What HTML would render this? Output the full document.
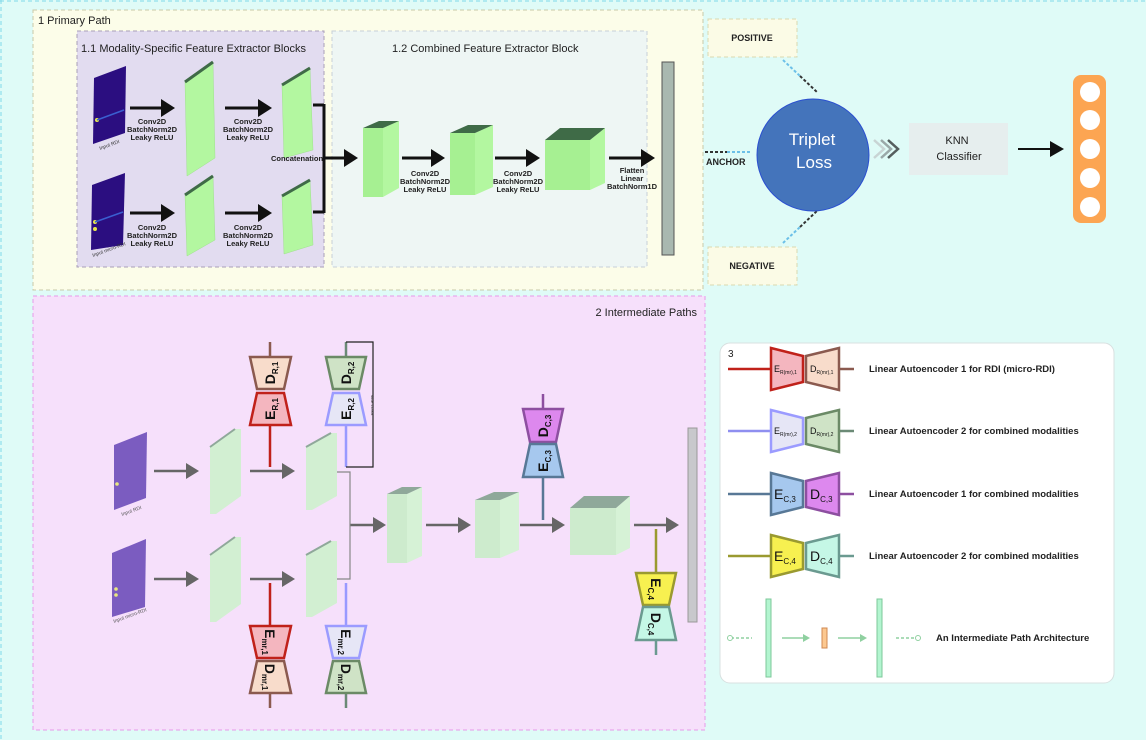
<!DOCTYPE html>
<html><head><meta charset="utf-8"><style>
html,body{margin:0;padding:0;background:#dffbf7;}
svg{display:block;font-family:"Liberation Sans",sans-serif;}
</style></head><body>
<svg width="1146" height="740" viewBox="0 0 1146 740" xmlns="http://www.w3.org/2000/svg">
<rect x="0" y="0" width="1146" height="740" fill="#dffbf7"/>
<line x1="0" y1="1" x2="1146" y2="1" stroke="#7fd8e8" stroke-dasharray="4,3"/>
<line x1="1" y1="0" x2="1" y2="740" stroke="#7fd8e8" stroke-dasharray="4,3"/>

<!-- PRIMARY -->
<rect x="33" y="10" width="670" height="280" fill="#fcfde9" stroke="#c9c9a8" stroke-dasharray="4,3"/>
<text x="38" y="24" font-size="11" fill="#222">1 Primary Path</text>
<rect x="77" y="31" width="247" height="236" fill="#e2dcf0" stroke="#a9a0b8" stroke-dasharray="4,3"/>
<text x="81" y="52" font-size="11" fill="#222">1.1 Modality-Specific Feature Extractor Blocks</text>
<rect x="332" y="31" width="315" height="236" fill="#eef6f4" stroke="#c7d0d8" stroke-dasharray="4,3"/>
<text x="392" y="52" font-size="11" fill="#222">1.2 Combined Feature Extractor Block</text>
<rect x="662" y="62" width="12" height="193" fill="#a9b8b0" stroke="#555" stroke-width="1"/>

<!-- spectrograms primary -->
<polygon points="94,78 126,66 125,133 93,144" fill="#2b0e80"/>
<circle cx="97" cy="120" r="2" fill="#e8e84a"/>
<line x1="97" y1="120" x2="124" y2="110" stroke="#3a5fd0" stroke-width="1.5"/>
<text transform="translate(100,150) rotate(-20)" font-size="5" fill="#333">Input RDI</text>
<polygon points="92,185 125,173 123,245 91,250" fill="#2b0e80"/>
<circle cx="95" cy="222" r="2" fill="#e8e84a"/>
<circle cx="95" cy="229" r="2" fill="#e8e84a"/>
<line x1="95" y1="222" x2="123" y2="212" stroke="#3a5fd0" stroke-width="1.5"/>
<text transform="translate(93,257) rotate(-20)" font-size="5" fill="#333">Input micro-RDI</text>

<!-- primary slabs -->
<g fill="#b3f7a0" stroke="#a0e08f" stroke-width="0.5">
<polygon points="185,82 213,62 215,158 187,176"/>
<polygon points="282,85 310,68 313,150 284,158"/>
<polygon points="185,195 213,176 215,240 187,256"/>
<polygon points="282,196 310,180 313,245 284,254"/>
</g>
<g stroke="#3f6b47" stroke-width="3">
<line x1="185" y1="82" x2="213" y2="62"/>
<line x1="282" y1="85" x2="310" y2="68"/>
<line x1="185" y1="195" x2="213" y2="176"/>
<line x1="282" y1="196" x2="310" y2="180"/>
</g>
<!-- slab3 -->
<polygon points="363,128 383,128 383,197 363,197" fill="#a6f092"/>
<polygon points="383,128 399,121 399,188 383,197" fill="#b3f7a0"/>
<polygon points="363,128 379,121 399,121 383,128" fill="#3f6b47"/>
<!-- slab4 -->
<polygon points="450,133 475,133 475,195 450,195" fill="#a6f092"/>
<polygon points="475,133 493,125 493,187 475,195" fill="#b3f7a0"/>
<polygon points="450,133 468,125 493,125 475,133" fill="#3f6b47"/>
<!-- cube -->
<polygon points="545,140 590,140 590,190 545,190" fill="#a6f092"/>
<polygon points="590,140 605,128 605,183 590,190" fill="#b3f7a0"/>
<polygon points="545,140 560,128 605,128 590,140" fill="#3f6b47"/>

<!-- primary arrows -->
<g stroke="#111" stroke-width="3">
<line x1="130" y1="108" x2="162" y2="108"/><line x1="225" y1="108" x2="259" y2="108"/>
<line x1="130" y1="213" x2="162" y2="213"/><line x1="225" y1="213" x2="259" y2="213"/>
<line x1="313" y1="105" x2="324" y2="105"/><line x1="324" y1="104" x2="324" y2="213"/><line x1="313" y1="212" x2="324" y2="212"/>
<line x1="324" y1="158" x2="345" y2="158"/><line x1="402" y1="158" x2="432" y2="158"/>
<line x1="495" y1="158" x2="527" y2="158"/><line x1="609" y1="158" x2="642" y2="158"/>
</g>
<g stroke="#111" stroke-width="1.5"><line x1="313" y1="105" x2="324" y2="105"/></g>
<g fill="#111">
<polygon points="161,99 175,108 161,117"/><polygon points="258,99 272,108 258,117"/>
<polygon points="161,204 175,213 161,222"/><polygon points="258,204 272,213 258,222"/>
<polygon points="344,149 358,158 344,167"/><polygon points="431,149 445,158 431,167"/>
<polygon points="526,149 540,158 526,167"/><polygon points="641,149 655,158 641,167"/>
</g>
<g font-size="7.5" font-weight="bold" fill="#222" text-anchor="middle">
<text x="152" y="124">Conv2D</text><text x="152" y="132">BatchNorm2D</text><text x="152" y="140">Leaky ReLU</text>
<text x="248" y="124">Conv2D</text><text x="248" y="132">BatchNorm2D</text><text x="248" y="140">Leaky ReLU</text>
<text x="152" y="230">Conv2D</text><text x="152" y="238">BatchNorm2D</text><text x="152" y="246">Leaky ReLU</text>
<text x="248" y="230">Conv2D</text><text x="248" y="238">BatchNorm2D</text><text x="248" y="246">Leaky ReLU</text>
<text x="297" y="161">Concatenation</text>
<text x="425" y="176">Conv2D</text><text x="425" y="184">BatchNorm2D</text><text x="425" y="192">Leaky ReLU</text>
<text x="518" y="176">Conv2D</text><text x="518" y="184">BatchNorm2D</text><text x="518" y="192">Leaky ReLU</text>
<text x="632" y="173">Flatten</text><text x="632" y="181">Linear</text><text x="632" y="189">BatchNorm1D</text>
</g>

<!-- TRIPLET -->
<rect x="708" y="19" width="89" height="38" fill="#fbfbe6" stroke="#d8d8b0" stroke-dasharray="4,3"/>
<text x="752" y="41" font-size="9" font-weight="bold" text-anchor="middle" fill="#222">POSITIVE</text>
<rect x="708" y="247" width="89" height="38" fill="#fbfbe6" stroke="#d8d8b0" stroke-dasharray="4,3"/>
<text x="752" y="269" font-size="9" font-weight="bold" text-anchor="middle" fill="#222">NEGATIVE</text>
<g stroke-width="2" stroke-dasharray="3,2">
<line x1="783" y1="60" x2="800" y2="76" stroke="#6cc0e8"/><line x1="800" y1="76" x2="818" y2="93" stroke="#333"/>
<line x1="783" y1="243" x2="800" y2="227" stroke="#6cc0e8"/><line x1="800" y1="227" x2="818" y2="210" stroke="#333"/>
<line x1="705" y1="152" x2="727" y2="152" stroke="#333"/><line x1="727" y1="152" x2="751" y2="152" stroke="#6cc0e8"/>
</g>
<text x="706" y="165" font-size="9" font-weight="bold" fill="#222">ANCHOR</text>
<circle cx="813" cy="155" r="56" fill="#4474bb" stroke="#2a4fd0" stroke-width="1"/>
<text x="812" y="145" font-size="17" fill="#fff" text-anchor="middle">Triplet</text>
<text x="814" y="168" font-size="17" fill="#fff" text-anchor="middle">Loss</text>
<g fill="none" stroke-width="2.5">
<polyline points="874,140 884,149 874,158" stroke="#c8d4d4"/>
<polyline points="881,140 891,149 881,158" stroke="#9aa8a8"/>
<polyline points="888,140 898,149 888,158" stroke="#555e5e"/>
</g>
<rect x="909" y="123" width="99" height="52" fill="#e6eeee"/>
<text x="957" y="144" font-size="11" text-anchor="middle" fill="#222">KNN</text>
<text x="959" y="160" font-size="11" text-anchor="middle" fill="#222">Classifier</text>
<line x1="1018" y1="149" x2="1050" y2="149" stroke="#111" stroke-width="2"/>
<polygon points="1050,141 1064,149 1050,157" fill="#111"/>
<rect x="1073" y="75" width="33" height="148" rx="8" fill="#fca552"/>
<g fill="#fff"><circle cx="1090" cy="92" r="10"/><circle cx="1090" cy="120" r="10"/><circle cx="1090" cy="149" r="10"/><circle cx="1090" cy="178" r="10"/><circle cx="1090" cy="207" r="10"/></g>

<!-- INTERMEDIATE -->
<rect x="33" y="296" width="672" height="434" fill="#f6e0fb" stroke="#e79ae8" stroke-dasharray="4,3"/>
<text x="697" y="316" font-size="11" text-anchor="end" fill="#222">2 Intermediate Paths</text>

<polygon points="114,445 147,432 146,498 114,510" fill="#7b5cc0"/>
<circle cx="117" cy="484" r="1.8" fill="#e8e880"/>
<text transform="translate(122,516) rotate(-20)" font-size="5" fill="#555">Input RDI</text>
<polygon points="112,553 146,539 145,607 112,617" fill="#7b5cc0"/>
<circle cx="116" cy="589" r="1.8" fill="#e8e880"/><circle cx="116" cy="595" r="1.8" fill="#e8e880"/>
<text transform="translate(114,623) rotate(-20)" font-size="5" fill="#555">Input micro-RDI</text>

<g fill="#d2efd2">
<polygon points="210,447 235,429 241,429 241,496 216,514 210,514"/>
<polygon points="306,447 331,433 337,433 337,496 312,510 306,510"/>
<polygon points="210,555 235,537 241,537 241,604 216,622 210,622"/>
<polygon points="306,555 331,541 337,541 337,603 312,617 306,617"/>
</g>
<g stroke="#8fa89a" stroke-width="2">
<line x1="210" y1="447" x2="235" y2="429"/><line x1="306" y1="447" x2="331" y2="433"/>
<line x1="210" y1="555" x2="235" y2="537"/><line x1="306" y1="555" x2="331" y2="541"/>
</g>
<polygon points="387,494 407,494 407,563 387,563" fill="#cdebcd"/>
<polygon points="407,494 422,487 422,556 407,563" fill="#d6f2d6"/>
<polygon points="387,494 402,487 422,487 407,494" fill="#8fa89a"/>
<polygon points="475,500 500,500 500,558 475,558" fill="#cdebcd"/>
<polygon points="500,500 519,492 519,550 500,558" fill="#d6f2d6"/>
<polygon points="475,500 494,492 519,492 500,500" fill="#8fa89a"/>
<polygon points="570,508 616,508 616,555 570,555" fill="#cdebcd"/>
<polygon points="616,508 630,496 630,548 616,555" fill="#d6f2d6"/>
<polygon points="570,508 584,496 630,496 616,508" fill="#8fa89a"/>
<rect x="688" y="428" width="9" height="194" fill="#c8c8cc" stroke="#999"/>

<g stroke="#666" stroke-width="2.5">
<line x1="154" y1="471" x2="188" y2="471"/><line x1="250" y1="471" x2="284" y2="471"/>
<line x1="154" y1="579" x2="188" y2="579"/><line x1="250" y1="579" x2="284" y2="579"/>
<line x1="350" y1="525" x2="375" y2="525"/><line x1="426" y1="525" x2="460" y2="525"/>
<line x1="520" y1="525" x2="554" y2="525"/><line x1="634" y1="525" x2="668" y2="525"/>
</g>
<g stroke="#888" stroke-width="1.2" fill="none"><polyline points="337,472 350,472 350,579 337,579"/></g>
<g fill="#666">
<polygon points="186,463 199,471 186,479"/><polygon points="282,463 295,471 282,479"/>
<polygon points="186,571 199,579 186,587"/><polygon points="282,571 295,579 282,587"/>
<polygon points="373,517 386,525 373,533"/><polygon points="458,517 471,525 458,533"/>
<polygon points="552,517 565,525 552,533"/><polygon points="666,517 679,525 666,533"/>
</g>

<!-- AE lines -->
<g stroke-width="2.5">
<line x1="270" y1="342" x2="270" y2="360" stroke="#8b5a4f"/>
<line x1="270" y1="420" x2="270" y2="467" stroke="#c0211a"/>
<line x1="346" y1="342" x2="346" y2="360" stroke="#6b8a76"/>
<line x1="346" y1="420" x2="346" y2="467" stroke="#9999ff"/>
<line x1="270" y1="583" x2="270" y2="630" stroke="#c0211a"/>
<line x1="270" y1="690" x2="270" y2="708" stroke="#8b5a4f"/>
<line x1="346" y1="583" x2="346" y2="630" stroke="#9999ff"/>
<line x1="346" y1="690" x2="346" y2="708" stroke="#6b8a76"/>
<line x1="543" y1="394" x2="543" y2="412" stroke="#8d4fa0"/>
<line x1="543" y1="475" x2="543" y2="520" stroke="#587896"/>
<line x1="656" y1="529" x2="656" y2="576" stroke="#9a9a30"/>
<line x1="656" y1="637" x2="656" y2="655" stroke="#6b9a90"/>
</g>
<polyline points="346,342 373,342 373,467 346,467" fill="none" stroke="#222" stroke-width="1.2"/>
<text transform="translate(371,405) rotate(90)" font-size="4" text-anchor="middle" fill="#333">MAE LOSS</text>

<g stroke-width="2.5">
<polygon points="250,357 291,357 284,389 257,389" fill="#f8dccb" stroke="#8b5a4f"/>
<polygon points="257,393 284,393 291,425 250,425" fill="#f4b6bf" stroke="#c0211a"/>
<polygon points="326,357 366,357 359,389 333,389" fill="#cfe3c6" stroke="#6b8a66"/>
<polygon points="333,393 359,393 366,425 326,425" fill="#e6e6f6" stroke="#9b9bff"/>
<polygon points="250,626 291,626 284,658 257,658" fill="#f4b6bf" stroke="#c0211a"/>
<polygon points="257,661 284,661 291,693 250,693" fill="#f8dccb" stroke="#8b5a4f"/>
<polygon points="326,626 366,626 359,658 333,658" fill="#e6e6f6" stroke="#9b9bff"/>
<polygon points="333,661 359,661 366,693 326,693" fill="#cfe3c6" stroke="#6b8a66"/>
<polygon points="523,409 563,409 556,442 530,442" fill="#dd88ee" stroke="#8d4fa0"/>
<polygon points="530,444 556,444 563,477 523,477" fill="#a6c8ee" stroke="#587896"/>
<polygon points="636,573 676,573 669,605 643,605" fill="#f7f050" stroke="#9a9a30"/>
<polygon points="643,607 669,607 676,640 636,640" fill="#c5f7e6" stroke="#6b9a90"/>
</g>
<g font-size="14" font-weight="bold" fill="#111" text-anchor="middle">
<text transform="translate(275,373) rotate(-90)">D<tspan font-size="8" dy="3">R,1</tspan></text>
<text transform="translate(275,409) rotate(-90)">E<tspan font-size="8" dy="3">R,1</tspan></text>
<text transform="translate(351,373) rotate(-90)">D<tspan font-size="8" dy="3">R,2</tspan></text>
<text transform="translate(351,409) rotate(-90)">E<tspan font-size="8" dy="3">R,2</tspan></text>
<text transform="translate(265,642) rotate(90)">E<tspan font-size="8" dy="3">mr,1</tspan></text>
<text transform="translate(265,677) rotate(90)">D<tspan font-size="8" dy="3">mr,1</tspan></text>
<text transform="translate(341,642) rotate(90)">E<tspan font-size="8" dy="3">mr,2</tspan></text>
<text transform="translate(341,677) rotate(90)">D<tspan font-size="8" dy="3">mr,2</tspan></text>
<text transform="translate(548,426) rotate(-90)">D<tspan font-size="8" dy="3">C,3</tspan></text>
<text transform="translate(548,461) rotate(-90)">E<tspan font-size="8" dy="3">C,3</tspan></text>
<text transform="translate(651,589) rotate(90)">E<tspan font-size="8" dy="3">C,4</tspan></text>
<text transform="translate(651,624) rotate(90)">D<tspan font-size="8" dy="3">C,4</tspan></text>
</g>

<!-- LEGEND -->
<rect x="720" y="343" width="394" height="340" rx="10" fill="#fff" stroke="#d8e0e0"/>
<text x="728" y="357" font-size="10" fill="#222">3</text>
<g stroke-width="2.5">
<line x1="728" y1="369" x2="771" y2="369" stroke="#c0211a"/><line x1="839" y1="369" x2="854" y2="369" stroke="#8b5a4f"/>
<polygon points="771,348 803,356 803,382 771,390" fill="#f4b6bf" stroke="#c0211a"/>
<polygon points="806,356 839,348 839,390 806,382" fill="#f8dccb" stroke="#8b5a4f"/>
<line x1="728" y1="431" x2="771" y2="431" stroke="#8f8ff0"/><line x1="839" y1="431" x2="854" y2="431" stroke="#6b8a76"/>
<polygon points="771,410 803,418 803,444 771,452" fill="#e6e6f6" stroke="#9b9bff"/>
<polygon points="806,418 839,410 839,452 806,444" fill="#cfe3c6" stroke="#6b8a66"/>
<line x1="728" y1="494" x2="771" y2="494" stroke="#587896"/><line x1="839" y1="494" x2="854" y2="494" stroke="#8d4fa0"/>
<polygon points="771,473 803,481 803,507 771,515" fill="#a6c8ee" stroke="#587896"/>
<polygon points="806,481 839,473 839,515 806,507" fill="#dd88ee" stroke="#8d4fa0"/>
<line x1="728" y1="556" x2="771" y2="556" stroke="#9a9a30"/><line x1="839" y1="556" x2="854" y2="556" stroke="#6b9a90"/>
<polygon points="771,535 803,543 803,569 771,577" fill="#f7f050" stroke="#9a9a30"/>
<polygon points="806,543 839,535 839,577 806,569" fill="#c5f7e6" stroke="#6b9a90"/>
</g>
<g fill="#111">
<text x="774" y="372" font-size="9">E<tspan font-size="5" dy="2">R(mr),1</tspan></text>
<text x="810" y="372" font-size="9">D<tspan font-size="5" dy="2">R(mr),1</tspan></text>
<text x="774" y="434" font-size="9">E<tspan font-size="5" dy="2">R(mr),2</tspan></text>
<text x="810" y="434" font-size="9">D<tspan font-size="5" dy="2">R(mr),2</tspan></text>
<text x="774" y="499" font-size="14">E<tspan font-size="8" dy="3">C,3</tspan></text>
<text x="810" y="499" font-size="14">D<tspan font-size="8" dy="3">C,3</tspan></text>
<text x="774" y="561" font-size="14">E<tspan font-size="8" dy="3">C,4</tspan></text>
<text x="810" y="561" font-size="14">D<tspan font-size="8" dy="3">C,4</tspan></text>
</g>
<g font-size="9.5" font-weight="bold" fill="#222">
<text x="869" y="372">Linear Autoencoder 1 for RDI (micro-RDI)</text>
<text x="869" y="434">Linear Autoencoder 2  for combined modalities</text>
<text x="869" y="497">Linear Autoencoder 1  for combined modalities</text>
<text x="869" y="559">Linear Autoencoder 2  for combined modalities</text>
<text x="936" y="641">An Intermediate Path Architecture</text>
</g>
<rect x="766" y="599" width="5" height="78" fill="#b3f5d0" stroke="#7cc89a"/>
<rect x="877" y="599" width="5" height="78" fill="#b3f5d0" stroke="#7cc89a"/>
<rect x="822" y="628" width="5" height="20" fill="#fcc890" stroke="#d08850"/>
<g stroke="#8fd0a0" stroke-width="1.5">
<line x1="782" y1="638" x2="804" y2="638"/><line x1="838" y1="638" x2="861" y2="638"/>
<line x1="731" y1="638" x2="752" y2="638" stroke-dasharray="3,2"/>
<line x1="896" y1="638" x2="916" y2="638" stroke-dasharray="3,2"/>
</g>
<g fill="#8fd0a0"><polygon points="803,634 810,638 803,642"/><polygon points="860,634 867,638 860,642"/></g>
<circle cx="730" cy="638" r="2.5" fill="#fff" stroke="#8fd0a0"/>
<circle cx="918" cy="638" r="2.5" fill="#fff" stroke="#8fd0a0"/>
</svg>
</body></html>
